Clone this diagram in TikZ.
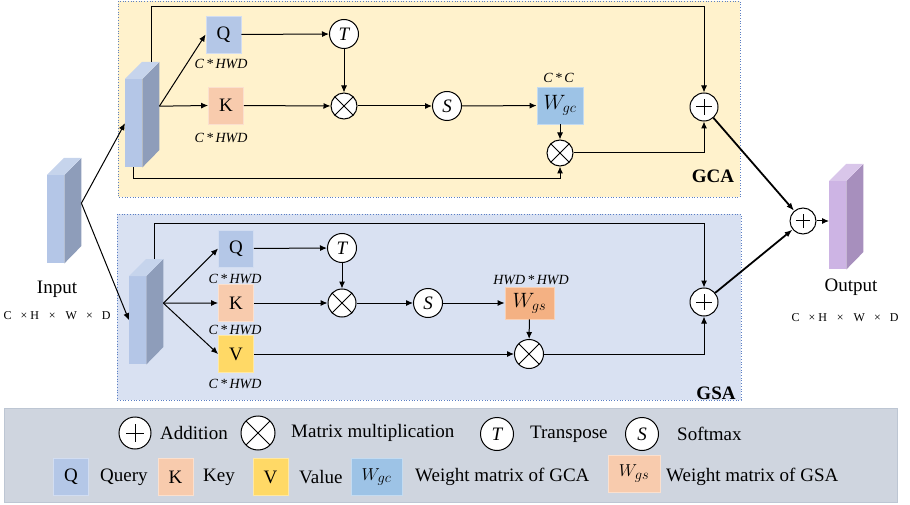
\documentclass[tikz,border=0pt]{standalone}
\usepackage{fontspec}
\setmainfont{Liberation Serif}
\usetikzlibrary{arrows.meta,calc}

\definecolor{gcafill}{HTML}{FFF2CC}
\definecolor{gsafill}{HTML}{D9E1F2}
\definecolor{framecol}{HTML}{5B7FC4}
\definecolor{legfill}{HTML}{CFD5DF}
\definecolor{legline}{HTML}{BDC6D3}
\definecolor{qcol}{HTML}{B4C7E7}
\definecolor{kcol}{HTML}{F8CBAD}
\definecolor{vcol}{HTML}{FFD966}
\definecolor{wgccol}{HTML}{9DC3E6}
\definecolor{wgscol}{HTML}{F4B183}
\definecolor{blkfront}{HTML}{B4C6E7}
\definecolor{blkside}{HTML}{8E9DBA}
\definecolor{blktop}{HTML}{C6D4EC}
\definecolor{outfront}{HTML}{CDB4E4}
\definecolor{outside}{HTML}{A78FBD}
\definecolor{outtop}{HTML}{D9C6EA}

\newcommand{\fsz}[1]{\fontsize{#1}{#1}\selectfont}
% tensor size caption
\newcommand{\dimtext}{C\hspace{9pt}×\hspace{3pt}H\hspace{10pt}×\hspace{10pt}W\hspace{9pt}×\hspace{9pt}D}

\tikzset{
  x=1pt, y=-1pt,
  arr/.style={-{Latex[length=7pt,width=6pt]}, line width=1pt},
  fatarr/.style={-{Latex[length=8pt,width=6pt]}, line width=1.8pt},
  opnode/.style={circle, draw, line width=1pt, fill=white, inner sep=0pt, minimum size=#1},
  opnode/.default=28pt,
  plusop/.style={opnode=#1, path picture={
      \draw[line width=1pt] ($(path picture bounding box.center)+(-0.27*#1,0)$) -- ++(0.54*#1,0);
      \draw[line width=1pt] ($(path picture bounding box.center)+(0,-0.27*#1)$) -- ++(0,0.54*#1);}},
  plusop/.default=28pt,
  timesop/.style={opnode=#1, path picture={
      \draw[line width=1pt] (path picture bounding box.north west) -- (path picture bounding box.south east);
      \draw[line width=1pt] (path picture bounding box.north east) -- (path picture bounding box.south west);}},
  timesop/.default=26pt,
  letterop/.style={opnode=#1, font=\fsz{19}\itshape},
  letterop/.default=29pt,
  mat/.style={rectangle, fill=#1, draw=#1!60!white, line width=0.8pt, inner sep=0pt,
              minimum width=35pt, minimum height=37pt, font=\fsz{19}},
  dimlabel/.style={font=\fsz{14}\itshape, inner sep=0pt},
  legtext/.style={font=\fsz{19}, anchor=west, inner sep=0pt},
  region/.style={draw=framecol, dotted, line width=0.7pt, fill=#1},
  front/.style={rectangle, fill=#1, inner sep=0pt, minimum width=17pt, minimum height=88pt, anchor=north west},
}

% a feature block: front face as a node, side and top faces drawn behind its east/north edges
\newcommand{\featblock}[6]{%
  \node[front=#4] (#1) at (#2,#3) {};
  \fill[#5] (#1.north east) -- ++(17,-17) -- ++(0,88) -- (#1.south east) -- cycle;
  \fill[#6] (#1.north west) -- ++(17,-17) -- ++(17,0) -- (#1.north east) -- cycle;
}

\begin{document}
\begin{tikzpicture}
\useasboundingbox (0,0) rectangle (910,505);

% ---------- regions ----------
\draw[region=gcafill] (118,1) rectangle (740,197);
\draw[region=gsafill] (117,214) rectangle (741,400);
\fill[legfill] (4,408) rectangle (897,502);
\draw[legline, line width=0.8pt] (4,408) rectangle (897,502);

\node[font=\fsz{19}\bfseries, inner sep=0pt] (gcatitle) at (713,176) {GCA};
\node[font=\fsz{19}\bfseries, inner sep=0pt] (gsatitle) at (716,393) {GSA};

% ---------- feature blocks ----------
\featblock{inb}{47}{175}{blkfront}{blkside}{blktop}
\featblock{gb}{125}{79}{blkfront}{blkside}{blktop}
\featblock{sb}{129}{276}{blkfront}{blkside}{blktop}
\featblock{outb}{829}{181}{outfront}{outside}{outtop}

\node[font=\fsz{19}, inner sep=0pt] (inlbl) at (57,289) {Input};
\node[font=\fsz{12}, inner sep=0pt] (indim) at (57,316) {\dimtext};
\node[font=\fsz{19}, inner sep=0pt] (outlbl) at (851,287) {Output};
\node[font=\fsz{12}, inner sep=0pt] (outdim) at (845,318) {\dimtext};

% attachment points on the blocks
\coordinate (inr)  at ($(inb.east)+(17,-16)$);
\coordinate (gbr)  at ($(gb.east)+(17,-17)$);
\coordinate (gbt)  at ($(gb.north)+(17.5,-17)$);
\coordinate (sbr)  at ($(sb.east)+(17,-17)$);
\coordinate (sbt)  at ($(sb.north)+(16.5,-17)$);

% ---------- GCA branch ----------
\node[mat=qcol] (gq) at (223.5,34.5) {Q};
\node[mat=kcol] (gk) at (226,105.5) {K};
\node[dimlabel] (gqd) at (221,64) {C\,*\,HWD};
\node[dimlabel] (gkd) at (221,138) {C\,*\,HWD};
\node[letterop] (gt) at (344,34) {T};
\node[timesop] (gm1) at (344,106) {};
\node[letterop] (gs) at (447,106) {S};
\node[mat=wgccol, minimum width=46pt, font=\fsz{21}] (gw) at (560,105.5) {$W_{gc}$};
\node[dimlabel] (gwd) at (558.5,78) {C\,*\,C};
\node[timesop] (gm2) at (560,153) {};
\node[plusop] (gp) at (704,107) {};

\draw[arr] (gbr) -- (gq.west);
\draw[arr] (gbr) -- (gk.west);
\draw[arr] (gq) -- (gt);
\draw[arr] (gt) -- (gm1);
\draw[arr] (gk) -- (gm1);
\draw[arr] (gm1) -- (gs);
\draw[arr] (gs) -- (gw);
\draw[arr] (gw) -- (gm2);
\draw[arr] (gm2.east) -| (gp.south);
\draw[arr] (gbt) -- ++(0,-55) -| (gp.north);
\draw[arr] (gb.south) -- ++(0,11) -| (gm2.south);

% ---------- GSA branch ----------
\node[mat=qcol] (sq) at (236,248.5) {Q};
\node[mat=kcol] (sk) at (236,303) {K};
\node[mat=vcol] (sv) at (236,354) {V};
\node[dimlabel] (sqd) at (235,279) {C\,*\,HWD};
\node[dimlabel] (skd) at (235,330) {C\,*\,HWD};
\node[dimlabel] (svd) at (235,384) {C\,*\,HWD};
\node[letterop] (st) at (342,248) {T};
\node[timesop=28pt] (sm1) at (342,303) {};
\node[letterop] (ss) at (428,303) {S};
\node[mat=wgscol, minimum width=49pt, minimum height=32pt, font=\fsz{21}] (sw) at (529.5,303) {$W_{gs}$};
\node[dimlabel] (swd) at (531,280) {HWD\,*\,HWD};
\node[timesop=29pt] (sm2) at (529,354) {};
\node[plusop] (sp) at (704,302) {};

\draw[arr] (sbr) -- (sq.west);
\draw[arr] (sbr) -- (sk.west);
\draw[arr] (sbr) -- (sv.west);
\draw[arr] (sq) -- (st);
\draw[arr] (st) -- (sm1);
\draw[arr] (sk) -- (sm1);
\draw[arr] (sm1) -- (ss);
\draw[arr] (ss) -- (sw);
\draw[arr] (sw) -- (sm2);
\draw[arr] (sv) -- (sm2);
\draw[arr] (sm2.east) -| (sp.south);
\draw[arr] (sbt) -- ++(0,-35) -| (sp.north);

% ---------- input / output ----------
\draw[arr] (inr) -- (gb.west);
\draw[arr] (inr) -- (sb.west);
\node[plusop=26pt] (fp) at (803,221) {};
\draw[fatarr] (gp) -- (fp);
\draw[fatarr] (sp) -- (fp);
\draw[arr] (fp.east) -- (outb.west |- fp.east);

% ---------- legend ----------
\node[plusop=32pt] (lplus) at (135,433) {};
\node[legtext] (ladd) at (160,433) {Addition};
\node[timesop=34pt] (ltimes) at (258,433) {};
\node[legtext] (lmul) at (291,433) {Matrix multiplication};
\node[letterop=33pt] (lt) at (497,434) {T};
\node[legtext] (ltr) at (530,434) {Transpose};
\node[letterop=33pt] (ls) at (642,434) {S};
\node[legtext] (lsm) at (677,434) {Softmax};

\node[mat=qcol] (lq) at (71,477) {Q};
\node[legtext] (lqt) at (100,477) {Query};
\node[mat=kcol] (lk) at (175.5,477) {K};
\node[legtext] (lkt) at (203,477) {Key};
\node[mat=vcol] (lv) at (270.5,477) {V};
\node[legtext] (lvt) at (299,477) {Value};
\node[mat=wgccol, minimum width=51pt, font=\fsz{19}] (lw1) at (376.5,477) {$W_{gc}$};
\node[legtext] (lw1t) at (415,477) {Weight matrix of GCA};
\node[mat=kcol, minimum width=52pt, font=\fsz{19}] (lw2) at (634,473.5) {$W_{gs}$};
\node[legtext] (lw2t) at (666,477) {Weight matrix of GSA};
\end{tikzpicture}
\end{document}
